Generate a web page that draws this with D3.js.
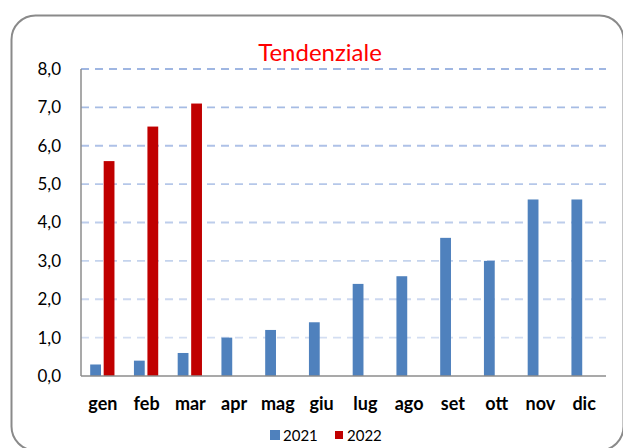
<!DOCTYPE html>
<html><head><meta charset="utf-8">
<script src="https://cdn.jsdelivr.net/npm/d3@7"></script>
<style>body{margin:0;background:#fff}svg{display:block}</style>
</head><body>
<script>
const months = ["gen","feb","mar","apr","mag","giu","lug","ago","set","ott","nov","dic"];
const series2021 = [0.3,0.4,0.6,1.0,1.2,1.4,2.4,2.6,3.6,3.0,4.6,4.6];
const series2022 = [5.6,6.5,7.1,null,null,null,null,null,null,null,null,null];
const yTicks = [0,1,2,3,4,5,6,7,8];
const seriesNames = ["2021","2022"];
const colors = ["#4f81bd","#c00000"];
const title = "Tendenziale";

const W=623,H=448;
const m={left:81,right:17,top:69,bottom:72};
const svg=d3.select("body").append("svg").attr("width",W).attr("height",H);
const font="Lato, 'Open Sans', sans-serif";

svg.append("rect").attr("x",11.5).attr("y",15.5).attr("width",612).attr("height",435)
  .attr("rx",24).attr("fill","#fff").attr("stroke","#8a8a8a").attr("stroke-width",2);

const x=d3.scaleBand().domain(months).range([m.left,W-m.right]);
const y=d3.scaleLinear().domain([0,8]).range([H-m.bottom,m.top]);
const sub=d3.scaleBand().domain(seriesNames).range([x.bandwidth()*0.21,x.bandwidth()*0.765]).paddingInner(0.2);
const gridColor=d3.scaleLinear().domain([1,8]).range(["#d3def2","#9fb6e2"]);

// gridlines
svg.append("g").selectAll("line").data(yTicks.filter(d=>d>0)).join("line")
  .attr("x1",m.left).attr("x2",W-m.right).attr("y1",d=>y(d)).attr("y2",d=>y(d))
  .attr("stroke",d=>gridColor(d)).attr("stroke-width",1.8).attr("stroke-dasharray","8,6");

// y labels
const yAxis=d3.axisLeft(y).tickValues(yTicks).tickFormat(d=>d3.format(".1f")(d).replace(".",",")).tickSize(0).tickPadding(20);
const ya=svg.append("g").attr("transform",`translate(${m.left},0)`).call(yAxis);
ya.select(".domain").remove();
ya.selectAll("text").attr("font-family",font).attr("font-size",17).attr("fill","#000");

// bars
const data=months.map((mo,i)=>({mo,vals:[series2021[i],series2022[i]]}));
data.forEach(d=>{
  d.vals.forEach((v,j)=>{
    if(v==null) return;
    svg.append("rect").attr("x",x(d.mo)+sub(seriesNames[j])).attr("width",sub.bandwidth())
      .attr("y",y(v)).attr("height",y(0)-y(v)).attr("fill",colors[j]);
  });
});

// axes lines
svg.append("line").attr("x1",m.left).attr("x2",m.left).attr("y1",m.top).attr("y2",y(0)).attr("stroke","#8c8c8c").attr("stroke-width",1.5);
svg.append("line").attr("x1",m.left).attr("x2",W-m.right).attr("y1",y(0)).attr("y2",y(0)).attr("stroke","#8c8c8c").attr("stroke-width",1.5);

// x labels
const xAxis=d3.axisBottom(x).tickSize(0).tickPadding(21);
const xa=svg.append("g").attr("transform",`translate(0,${y(0)})`).call(xAxis);
xa.select(".domain").remove();
xa.selectAll("text").attr("font-family",font).attr("font-size",18).attr("font-weight","bold").attr("fill","#000");

// title
svg.append("text").attr("x",320).attr("y",61).attr("text-anchor","middle")
  .attr("font-family",font).attr("font-size",24).attr("fill","#ff0000").text(title);

// legend
const lx=[270,335], ls=[10,8], ly=[430,431];
seriesNames.forEach((s,i)=>{
  svg.append("rect").attr("x",lx[i]).attr("y",ly[i]).attr("width",ls[i]).attr("height",ls[i]).attr("fill",colors[i]);
  svg.append("text").attr("x",lx[i]+(i==0?13:12)).attr("y",440.5).attr("font-family",font).attr("font-size",15).attr("fill","#000").text(s);
});
</script>
</body></html>
